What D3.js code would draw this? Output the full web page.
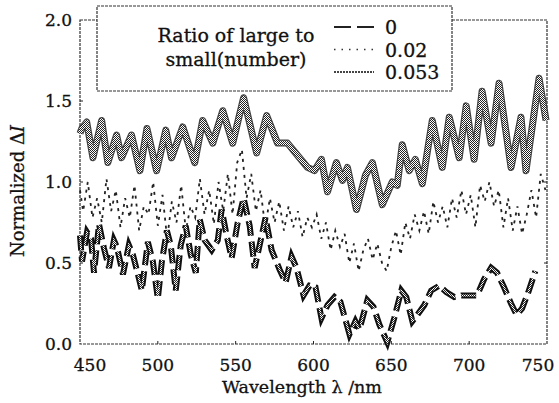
<!DOCTYPE html>
<html>
<head>
<meta charset="utf-8">
<script src="https://cdn.jsdelivr.net/npm/d3@7.9.0/dist/d3.min.js"></script>
<style>
  body { margin: 0; background: #fff; }
  svg { display: block; font-family: "DejaVu Serif", serif; }
  text { stroke: #111; stroke-width: 0.3px; }
</style>
</head>
<body>
<svg id="chart" width="559" height="403"></svg>
<script>
// ratio 0 (thick dashed black)
const wl0 = [450, 451.3, 454.5, 457.1, 459, 462.2, 465.4, 468.6, 471.8, 473.7, 477.6, 481.4, 484, 487.2, 489.7,
  493.6, 496.8, 500, 502.6, 505.8, 508.3, 511.5, 514.7, 517.9, 521.2, 524.4, 526.9, 530.1, 534.6, 538.5, 541,
  544.2, 547.4, 551.3, 555.1, 559, 562.2, 565.4, 569.2, 573.1, 578.2, 582.1, 585.9, 589.1, 593.6, 597.4, 601.3,
  605.1, 609, 613.5, 617.3, 623.1, 626.9, 629.5, 634.6, 638.5, 642.3, 647.4, 651.9, 656.4, 659.6, 663.5, 666.7,
  671.2, 675.6, 680.8, 685.3, 690.4, 694.9, 700, 705.1, 709.6, 714.1, 717.9, 722.4, 726.9, 730.5, 734, 738, 742.5];
const val0 = [0.67, 0.51, 0.69, 0.65, 0.44, 0.74, 0.59, 0.47, 0.64, 0.60, 0.43, 0.61, 0.55, 0.43, 0.33,
  0.63, 0.51, 0.28, 0.51, 0.70, 0.61, 0.33, 0.61, 0.73, 0.55, 0.44, 0.77, 0.64, 0.58, 0.64, 0.83,
  0.67, 0.53, 0.75, 0.90, 0.73, 0.47, 0.61, 0.78, 0.58, 0.46, 0.38, 0.54, 0.47, 0.30, 0.36, 0.35,
  0.16, 0.24, 0.29, 0.26, 0.06, 0.14, 0.09, 0.27, 0.23, 0.12, 0.01, 0.16, 0.33, 0.29, 0.14, 0.18,
  0.24, 0.33, 0.36, 0.32, 0.29, 0.30, 0.30, 0.30, 0.40, 0.47, 0.44, 0.35, 0.25, 0.18, 0.22, 0.32, 0.45];

// ratio 0.02 (small dots)
const wl002 = [450, 452, 455, 458, 461, 464, 467, 470, 473, 476, 479, 482, 485, 488, 491, 494, 497, 500, 503, 506,
  509, 512, 515, 518, 521, 524, 527, 530, 533, 536, 539, 542, 545, 548, 551, 554, 557, 560, 563, 566, 569, 572,
  575, 578, 581, 584, 587, 590, 593, 596, 599, 602, 605, 608, 611, 614, 617, 620, 623, 626, 629, 632, 635, 638,
  641, 644, 647, 650, 653, 656, 659, 662, 665, 668, 671, 674, 677, 680, 683, 686, 689, 692, 695, 698, 701, 704,
  707, 710, 713, 716, 719, 722, 725, 728, 731, 734, 737, 740, 743, 746, 749];
const val002 = [0.95, 0.82, 1.00, 0.78, 0.90, 0.75, 1.02, 0.82, 0.95, 0.72, 0.90, 0.78, 0.98, 0.70, 0.85, 0.80, 1.00, 0.73, 0.92, 0.65,
  0.88, 0.75, 0.98, 0.70, 0.85, 0.78, 1.02, 0.80, 0.95, 0.74, 1.00, 0.82, 1.05, 0.80, 1.12, 1.20, 0.90, 1.05, 0.82, 0.95, 0.72, 0.90,
  0.75, 0.88, 0.70, 0.85, 0.72, 0.82, 0.66, 0.78, 0.72, 0.80, 0.65, 0.75, 0.58, 0.70, 0.60, 0.68, 0.50, 0.62, 0.45, 0.58, 0.65, 0.52,
  0.62, 0.50, 0.45, 0.60, 0.70, 0.55, 0.75, 0.65, 0.80, 0.70, 0.82, 0.68, 0.88, 0.75, 0.85, 0.72, 0.90, 0.78, 0.95, 0.80, 0.92, 0.72,
  0.98, 0.88, 1.00, 0.85, 0.95, 0.72, 0.90, 0.70, 0.85, 0.68, 0.80, 0.95, 0.78, 1.05, 0.95];

// ratio 0.053 (thick halftone)
const wl053 = [450, 451.1, 454.3, 458.3, 463.9, 467.9, 473.5, 476.7, 483.1, 488.5, 493, 499.2, 505.1, 508.8, 516, 523.7,
  528.8, 535.3, 541.7, 548.1, 555.1, 563.5, 569.9, 576.9, 583.3, 591, 596.2, 600.6, 605.1, 609, 614.7, 618.6, 621.8,
  627.6, 633.3, 637.8, 644.2, 650.6, 653.8, 657, 661.5, 665.4, 669.9, 676.3, 682.7, 687.2, 693.6, 698.1, 703.2,
  708.3, 714.1, 719.2, 726.9, 733.3, 736.5, 744.9, 749.4];
const val053 = [1.30, 1.33, 1.37, 1.15, 1.38, 1.12, 1.29, 1.15, 1.29, 1.07, 1.33, 1.07, 1.32, 1.15, 1.34, 1.12,
  1.38, 1.24, 1.44, 1.24, 1.52, 1.18, 1.41, 1.24, 1.24, 1.15, 1.09, 1.07, 1.14, 0.94, 1.12, 1.01, 1.09,
  0.83, 1.04, 1.12, 0.86, 1.00, 0.98, 1.23, 1.07, 1.14, 0.99, 1.38, 1.09, 1.40, 1.15, 1.47, 1.14,
  1.56, 1.24, 1.61, 1.09, 1.40, 1.07, 1.64, 1.38];

const xTicks = [450, 500, 550, 600, 650, 700, 750];
const yTicks = [0, 0.5, 1.0, 1.5, 2.0];
const legendLabels = ["0", "0.02", "0.053"];

const svg = d3.select("#chart");
const pLeft = 80, pRight = 547, pTop = 20, pBottom = 344;

const x = d3.scaleLinear().domain([450, 750]).range([pLeft, pRight]);
const y = d3.scaleLinear().domain([0, 2]).range([pBottom, pTop]);

// halftone pattern
const defs = svg.append("defs");
const checker = defs.append("pattern").attr("id", "checker")
  .attr("width", 2).attr("height", 2).attr("patternUnits", "userSpaceOnUse");
checker.append("rect").attr("width", 2).attr("height", 2).attr("fill", "#fff");
checker.append("rect").attr("width", 1).attr("height", 1).attr("fill", "#222");
checker.append("rect").attr("x", 1).attr("y", 1).attr("width", 1).attr("height", 1).attr("fill", "#222");

const line = d3.line().x(d => x(d[0])).y(d => y(d[1]));

// frame
svg.append("rect")
  .attr("x", pLeft).attr("y", pTop).attr("width", pRight - pLeft).attr("height", pBottom - pTop)
  .attr("fill", "none").attr("stroke", "#333").attr("stroke-width", 1.2).attr("stroke-dasharray", "3,1");

// ticks (inward)
svg.selectAll(".xt").data(xTicks.slice(1, -1)).join("line")
  .attr("x1", d => x(d)).attr("x2", d => x(d)).attr("y1", pBottom).attr("y2", pBottom - 3)
  .attr("stroke", "#222");
svg.selectAll(".yt").data(yTicks.slice(1, -1)).join("line")
  .attr("x1", pLeft).attr("x2", pLeft + 3).attr("y1", d => y(d)).attr("y2", d => y(d))
  .attr("stroke", "#222");
svg.selectAll(".yt2").data(yTicks.slice(1, -1)).join("line")
  .attr("x1", pRight).attr("x2", pRight - 3).attr("y1", d => y(d)).attr("y2", d => y(d))
  .attr("stroke", "#222");

// series 0.053
const d053 = wl053.map((w, i) => [w, val053[i]]);
svg.append("path").attr("d", line(d053)).attr("fill", "none")
  .attr("stroke", "#444").attr("stroke-width", 7).attr("stroke-linejoin", "round");
svg.append("path").attr("d", line(d053)).attr("fill", "none")
  .attr("stroke", "url(#checker)").attr("stroke-width", 4.5).attr("stroke-linejoin", "round");

// series 0.02
const d002 = wl002.map((w, i) => [w, val002[i]]);
svg.append("path").attr("d", line(d002)).attr("fill", "none")
  .attr("stroke", "#222").attr("stroke-width", 1.8).attr("stroke-dasharray", "3,5");

// series 0
const d0 = wl0.map((w, i) => [w, val0[i]]);
svg.append("path").attr("d", line(d0)).attr("fill", "none")
  .attr("stroke", "#111").attr("stroke-width", 6).attr("stroke-dasharray", "15,6");
svg.append("path").attr("d", line(d0)).attr("fill", "none")
  .attr("stroke", "url(#checker)").attr("stroke-width", 2).attr("stroke-dasharray", "15,6");

// tick labels
svg.selectAll(".xl").data(xTicks).join("text")
  .attr("x", d => x(d) + (d === 450 ? 10 : d === 750 ? -9 : 0))
  .attr("y", 371).attr("text-anchor", "middle")
  .attr("font-size", 17).attr("fill", "#111")
  .text(d => d);
svg.selectAll(".yl").data(yTicks).join("text")
  .attr("x", 72).attr("y", d => y(d) + 6).attr("text-anchor", "end")
  .attr("font-size", 17).attr("fill", "#111")
  .text(d => d3.format(".1f")(d));

// axis titles
svg.append("text").attr("x", 302).attr("y", 393).attr("text-anchor", "middle")
  .attr("font-size", 17.5).attr("fill", "#111")
  .text("Wavelength λ /nm");
const yt = svg.append("text").attr("transform", "translate(24,191) rotate(-90)")
  .attr("text-anchor", "middle").attr("font-size", 18).attr("fill", "#111");
yt.append("tspan").text("Normalized Δ");
yt.append("tspan").attr("font-style", "italic").text("I");

// legend
const lg = svg.append("g");
lg.append("rect").attr("x", 97).attr("y", 6).attr("width", 355).attr("height", 85)
  .attr("fill", "#fff").attr("stroke", "#333").attr("stroke-width", 1.2).attr("stroke-dasharray", "3,1");
lg.append("text").attr("x", 236).attr("y", 42).attr("text-anchor", "middle")
  .attr("font-size", 19).attr("fill", "#111").text("Ratio of large to");
lg.append("text").attr("x", 236).attr("y", 66).attr("text-anchor", "middle")
  .attr("font-size", 19).attr("fill", "#111").text("small(number)");

const styles = [
  { dash: "17,6", width: 2, color: "#222" },
  { dash: "1.5,6", width: 1.5, color: "#333" },
  { dash: "2,1", width: 2, color: "#444" }
];
legendLabels.forEach((lab, i) => {
  const ly = 27 + i * 22.5;
  lg.append("line").attr("x1", 334).attr("x2", 374).attr("y1", ly).attr("y2", ly)
    .attr("stroke", styles[i].color).attr("stroke-width", styles[i].width)
    .attr("stroke-dasharray", styles[i].dash);
  lg.append("text").attr("x", 385).attr("y", ly + 7)
    .attr("font-size", 19).attr("fill", "#111").text(lab);
});
</script>
</body>
</html>
